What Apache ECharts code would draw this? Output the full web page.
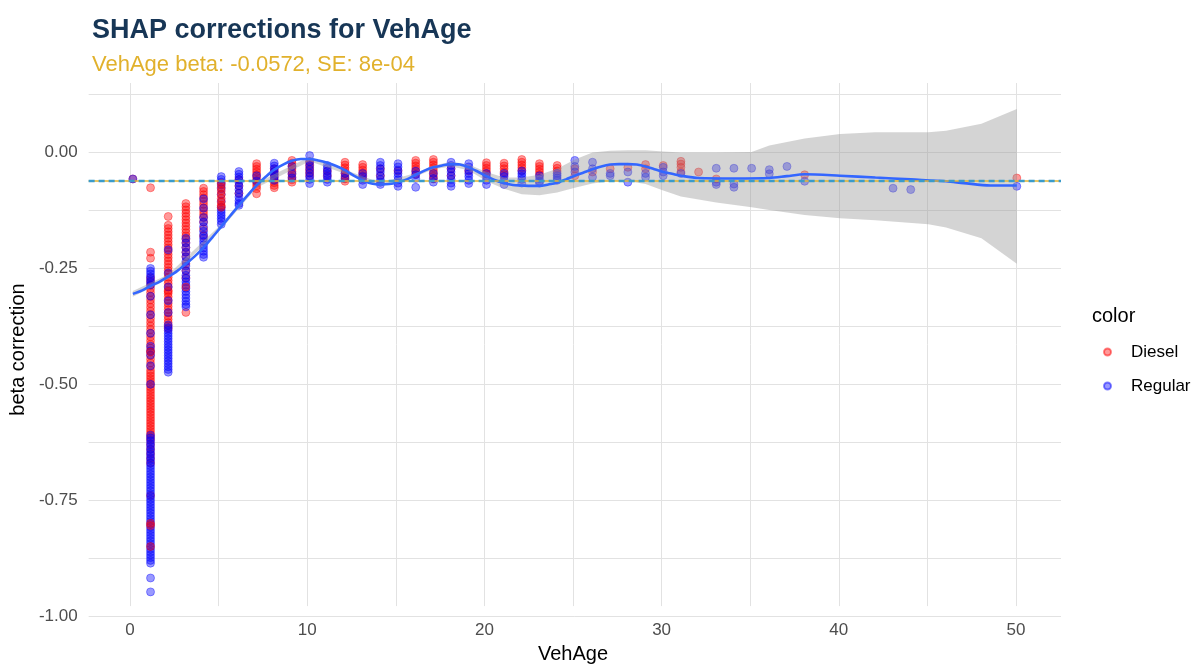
<!DOCTYPE html>
<html>
<head>
<meta charset="utf-8">
<script src="https://cdn.jsdelivr.net/npm/echarts@6/dist/echarts.min.js"></script>
<style>
  html, body { margin: 0; padding: 0; background: #ffffff; }
  #chart { width: 1203px; height: 669px; }
</style>
</head>
<body>
<div id="chart"></div>
<script>
// ---------- data ----------
const titleText = 'SHAP corrections for VehAge';
const subtitleText = 'VehAge beta: -0.0572, SE: 8e-04';
const betaValue = -0.0572;
const xTickLabels = [0, 10, 20, 30, 40, 50];
const yTickLabels = [0, -0.25, -0.5, -0.75, -1];

// Diesel points, per vehicle age: [age, [beta corrections]]
const dieselByAge = [
  [0, [-0.057]],
  [1, [-0.076, -0.215, -0.228,
       -0.27, -0.278, -0.286, -0.294, -0.302, -0.31, -0.318, -0.326, -0.334, -0.342, -0.35, -0.358, -0.366,
       -0.374, -0.382, -0.39, -0.398, -0.406, -0.414, -0.422, -0.43, -0.438, -0.446, -0.454, -0.462, -0.47,
       -0.476, -0.482, -0.488, -0.494, -0.50, -0.506, -0.512, -0.518, -0.524, -0.53, -0.536, -0.542, -0.548,
       -0.554, -0.56, -0.566, -0.572, -0.578, -0.584, -0.59, -0.596, -0.602, -0.608, -0.614, -0.62,
       -0.63, -0.64, -0.65, -0.66, -0.67, -0.74]],
  [2, [-0.138, -0.157, -0.164, -0.171, -0.178, -0.185, -0.192, -0.199, -0.206, -0.213, -0.22, -0.227, -0.234,
       -0.241, -0.248, -0.255, -0.262, -0.269, -0.276, -0.283, -0.29, -0.297, -0.304, -0.311, -0.318, -0.325,
       -0.332, -0.339, -0.346, -0.353, -0.36, -0.367, -0.374, -0.38]],
  [3, [-0.110, -0.117, -0.124, -0.131, -0.138, -0.145, -0.152, -0.159, -0.166, -0.173, -0.18, -0.187,
       -0.195, -0.205, -0.215, -0.225, -0.24, -0.255, -0.27, -0.345]],
  [4, [-0.077, -0.084, -0.091, -0.098, -0.105, -0.112, -0.119, -0.126, -0.133, -0.14, -0.15, -0.165, -0.18]],
  [6, [-0.058, -0.072, -0.088]],
  [7, [-0.024, -0.03, -0.036, -0.042, -0.048, -0.054, -0.06, -0.066, -0.072, -0.078, -0.089]],
  [8, [-0.035, -0.041, -0.047, -0.053, -0.059, -0.065, -0.071, -0.076]],
  [9, [-0.017, -0.023, -0.029, -0.035, -0.041, -0.047, -0.053, -0.059, -0.064]],
  [10, [-0.02, -0.026, -0.032, -0.038, -0.044, -0.05]],
  [11, [-0.04, -0.05]],
  [12, [-0.021, -0.027, -0.033, -0.039, -0.045, -0.051, -0.057, -0.062]],
  [13, [-0.026, -0.032, -0.038, -0.044, -0.05, -0.056]],
  [14, [-0.035, -0.05]],
  [15, [-0.04]],
  [16, [-0.017, -0.023, -0.029, -0.035, -0.041, -0.047]],
  [17, [-0.015, -0.021, -0.027, -0.033, -0.039, -0.045, -0.051, -0.057]],
  [18, [-0.035, -0.05]],
  [19, [-0.04]],
  [20, [-0.022, -0.028, -0.034, -0.04, -0.046]],
  [21, [-0.023, -0.029, -0.035, -0.042, -0.048]],
  [22, [-0.015, -0.021, -0.027, -0.033, -0.039]],
  [23, [-0.024, -0.03, -0.036, -0.042, -0.048]],
  [24, [-0.028, -0.034, -0.04]],
  [25, [-0.035, -0.05]],
  [26, [-0.042]],
  [27, [-0.035]],
  [28, [-0.032]],
  [29, [-0.026, -0.035]],
  [30, [-0.028]],
  [31, [-0.019, -0.025, -0.032, -0.042]],
  [32, [-0.042]],
  [33, [-0.057]],
  [38, [-0.048]],
  [50, [-0.055]]
];

// Diesel points that lie on top of Regular points
const dieselTopByAge = [
  [1, [-0.43, -0.80, -0.805, -0.85]],
  [2, [-0.30]],
  [3, [-0.29]],
  [5, [-0.067, -0.075, -0.083, -0.091, -0.099, -0.107, -0.114, -0.118]]
];

// Regular points, per vehicle age
const regularByAge = [
  [0, [-0.057]],
  [1, [-0.25, -0.256, -0.262, -0.268, -0.274, -0.28, -0.286, -0.31, -0.35, -0.39, -0.418, -0.428, -0.437, -0.46, -0.50,
       -0.610, -0.616, -0.622, -0.628, -0.634, -0.640, -0.646, -0.652, -0.658, -0.664, -0.670, -0.676, -0.682,
       -0.688, -0.694, -0.700, -0.706, -0.712, -0.718, -0.724, -0.730, -0.736, -0.742, -0.748, -0.754, -0.760,
       -0.766, -0.772, -0.778, -0.784, -0.790, -0.796, -0.802, -0.808, -0.814, -0.820, -0.826, -0.832, -0.838,
       -0.844, -0.850, -0.856, -0.862, -0.868, -0.874, -0.880, -0.886, -0.918, -0.948]],
  [2, [-0.21, -0.26, -0.29, -0.32, -0.345, -0.372, -0.378, -0.384, -0.39, -0.396, -0.402, -0.408, -0.414, -0.42,
       -0.426, -0.432, -0.438, -0.444, -0.45, -0.456, -0.462, -0.468, -0.474]],
  [3, [-0.185, -0.195, -0.205, -0.215, -0.225, -0.235, -0.245, -0.255, -0.265, -0.272, -0.279, -0.286, -0.293,
       -0.30, -0.307, -0.314, -0.321, -0.328, -0.333]],
  [4, [-0.10, -0.12, -0.14, -0.15, -0.16, -0.17, -0.178, -0.185, -0.192, -0.199, -0.206, -0.213, -0.22, -0.226]],
  [5, [-0.052, -0.058, -0.064, -0.07, -0.078, -0.09, -0.105, -0.118, -0.124, -0.13, -0.136, -0.142, -0.148, -0.155]],
  [6, [-0.041, -0.047, -0.053, -0.059, -0.065, -0.072, -0.08, -0.088, -0.096, -0.104, -0.11, -0.114]],
  [7, [-0.05, -0.062]],
  [8, [-0.023, -0.029, -0.035, -0.041, -0.047, -0.053, -0.06]],
  [9, [-0.03, -0.045, -0.055]],
  [10, [-0.0065, -0.02, -0.028, -0.036, -0.044, -0.052, -0.058, -0.067]],
  [11, [-0.028, -0.034, -0.04, -0.046, -0.052, -0.058, -0.064]],
  [12, [-0.045, -0.055]],
  [13, [-0.045, -0.052, -0.06, -0.069]],
  [14, [-0.021, -0.028, -0.035, -0.042, -0.05, -0.058, -0.064, -0.069]],
  [15, [-0.024, -0.031, -0.038, -0.045, -0.052, -0.059, -0.066, -0.073]],
  [16, [-0.04, -0.048, -0.056, -0.075]],
  [17, [-0.045, -0.056, -0.064]],
  [18, [-0.021, -0.028, -0.035, -0.042, -0.05, -0.058, -0.066, -0.073]],
  [19, [-0.024, -0.031, -0.038, -0.045, -0.052, -0.06, -0.067]],
  [20, [-0.045, -0.052, -0.06, -0.069]],
  [21, [-0.045, -0.052, -0.06, -0.069]],
  [22, [-0.04, -0.046, -0.052, -0.058, -0.066]],
  [23, [-0.05, -0.056, -0.062, -0.066]],
  [24, [-0.045, -0.05, -0.055, -0.06]],
  [25, [-0.017, -0.03, -0.042]],
  [26, [-0.021, -0.035, -0.053]],
  [27, [-0.045, -0.05]],
  [28, [-0.042, -0.064]],
  [29, [-0.045, -0.053]],
  [30, [-0.032, -0.042, -0.05]],
  [31, [-0.045]],
  [33, [-0.034, -0.064, -0.069]],
  [34, [-0.034, -0.068, -0.075]],
  [35, [-0.034]],
  [36, [-0.037, -0.046]],
  [37, [-0.03]],
  [38, [-0.062]],
  [43, [-0.077]],
  [44, [-0.08]],
  [50, [-0.073]]
];

// smoothed (loess) fit: [age, fit]
const smoothFit = [
  [0, -0.305], [0.5, -0.298], [1, -0.288], [1.5, -0.279], [2, -0.268], [2.5, -0.256],
  [3, -0.240], [3.5, -0.224], [4, -0.205], [4.5, -0.183], [5, -0.160], [5.5, -0.137],
  [6, -0.114], [6.5, -0.092], [7, -0.071], [7.5, -0.053], [8, -0.037], [8.5, -0.026],
  [9, -0.018], [9.5, -0.014], [10, -0.014], [10.5, -0.017], [11, -0.022], [11.5, -0.029],
  [12, -0.038], [12.5, -0.050], [13, -0.060], [13.5, -0.067], [14, -0.069], [14.5, -0.068],
  [15, -0.064], [15.5, -0.058], [16, -0.048], [16.5, -0.039], [17, -0.032], [17.5, -0.028],
  [18, -0.025], [18.5, -0.026], [19, -0.032], [19.5, -0.041], [20, -0.051], [20.5, -0.060],
  [21, -0.066], [21.5, -0.070], [22, -0.071], [22.5, -0.072], [23, -0.072], [23.5, -0.069],
  [24, -0.065], [24.5, -0.058], [25, -0.050], [25.5, -0.043], [26, -0.036], [26.5, -0.030],
  [27, -0.026], [27.5, -0.025], [28, -0.025], [28.5, -0.026], [29, -0.030], [29.5, -0.036],
  [30, -0.042], [30.5, -0.046], [31, -0.050], [32, -0.055], [34, -0.056], [36, -0.055],
  [37, -0.051], [38, -0.047], [40, -0.050], [42, -0.054], [44, -0.058], [46, -0.062],
  [47, -0.066], [48.5, -0.071], [50, -0.071]
];

// confidence band of the fit: [age, lower, upper]
const smoothBand = [
  [0, -0.311, -0.299], [2, -0.273, -0.263], [5, -0.165, -0.155], [7, -0.076, -0.066],
  [10, -0.019, -0.009], [14, -0.073, -0.065], [16, -0.052, -0.044], [17, -0.036, -0.028],
  [18, -0.030, -0.020], [19, -0.038, -0.026],
  [20, -0.062, -0.042], [21, -0.078, -0.054], [22, -0.090, -0.054], [23, -0.092, -0.048],
  [24, -0.086, -0.035], [25, -0.076, -0.015], [26, -0.067, 0.000], [27, -0.062, 0.004],
  [28, -0.062, 0.005], [29, -0.068, 0.005], [30, -0.082, 0.002], [31, -0.095, 0.000],
  [33, -0.108, 0.000], [35, -0.118, 0.001], [36, -0.124, 0.015], [38, -0.135, 0.030],
  [40, -0.142, 0.040], [42, -0.146, 0.044], [45, -0.155, 0.044], [46, -0.162, 0.047],
  [48, -0.185, 0.062], [50, -0.240, 0.094]
];

// ---------- build ----------
function flatten(byAge) {
  const out = [];
  byAge.forEach(function (row) {
    row[1].forEach(function (v) { out.push([row[0], v]); });
  });
  return out;
}

const FONT = 'Liberation Sans, Arial, Helvetica, sans-serif';
const GRID_COLOR = '#e2e2e2';
const TICK_COLOR = '#4d4d4d';
const RED = 'rgba(255,0,0,0.5)';
const BLUE = 'rgba(0,0,255,0.5)';
const PT = 8;

const chart = echarts.init(document.getElementById('chart'), null, { renderer: 'canvas' });

const option = {
  animation: false,
  backgroundColor: '#ffffff',
  textStyle: { fontFamily: FONT },
  title: [
    { text: titleText, left: 87, top: 12,
      textStyle: { fontFamily: FONT, fontSize: 27, fontWeight: 'bold', color: '#173656' } },
    { text: subtitleText, left: 87, top: 49,
      textStyle: { fontFamily: FONT, fontSize: 22, fontWeight: 'normal', color: '#E1B12C' } },
    { text: 'color', left: 1087, top: 301,
      textStyle: { fontFamily: FONT, fontSize: 20, fontWeight: 'normal', color: '#000000' } }
  ],
  legend: {
    data: ['Diesel', 'Regular'],
    orient: 'vertical',
    left: 1098,
    top: 337,
    icon: 'circle',
    itemWidth: 7,
    itemHeight: 7,
    itemGap: 14,
    selectedMode: false,
    textStyle: { fontFamily: FONT, fontSize: 17, color: '#000000', lineHeight: 20, padding: [0, 0, 0, 15] }
  },
  grid: [
    { left: 86, right: 142, top: 83, bottom: 53 },
    { left: 130, right: 187, top: 83, bottom: 53 }
  ],
  xAxis: [
    { gridIndex: 0, type: 'value', min: -2.5, max: 52.5, show: false },
    { gridIndex: 1, type: 'value', min: 0, max: 50, interval: 5,
      axisLine: { show: false }, axisTick: { show: false },
      splitLine: { show: true, lineStyle: { color: GRID_COLOR, width: 1 } },
      axisLabel: {
        color: TICK_COLOR, fontSize: 17, fontFamily: FONT, margin: 16,
        formatter: function (v) { return xTickLabels.indexOf(v) >= 0 ? String(v) : ''; }
      },
      name: 'VehAge', nameLocation: 'middle', nameGap: 36,
      nameTextStyle: { color: '#000000', fontSize: 20, fontFamily: FONT }
    }
  ],
  yAxis: [
    { gridIndex: 0, type: 'value', min: -1, max: 0.15, interval: 0.125,
      axisLine: { show: false }, axisTick: { show: false },
      splitLine: { show: true, showMaxLine: false, lineStyle: { color: GRID_COLOR, width: 1 } },
      axisLabel: {
        color: TICK_COLOR, fontSize: 17, fontFamily: FONT, margin: 11, showMaxLabel: false,
        formatter: function (v) {
          for (let i = 0; i < yTickLabels.length; i++) {
            if (Math.abs(yTickLabels[i] - v) < 1e-9) return yTickLabels[i].toFixed(2);
          }
          return '';
        }
      },
      name: 'beta correction', nameLocation: 'middle', nameGap: 55,
      nameTextStyle: { color: '#000000', fontSize: 20, fontFamily: FONT }
    },
    { gridIndex: 1, type: 'value', min: -1, max: 0.15, show: false }
  ],
  series: [
    { name: 'Diesel', type: 'scatter', xAxisIndex: 0, yAxisIndex: 0, z: 2,
      symbolSize: PT, data: flatten(dieselByAge),
      itemStyle: { color: RED, borderColor: 'rgba(255,0,0,0.6)', borderWidth: 0.8 } },
    { name: 'Regular', type: 'scatter', xAxisIndex: 0, yAxisIndex: 0, z: 2,
      symbolSize: PT, data: flatten(regularByAge),
      itemStyle: { color: BLUE, borderColor: 'rgba(0,0,255,0.6)', borderWidth: 0.8 } },
    { name: 'Diesel', type: 'scatter', xAxisIndex: 0, yAxisIndex: 0, z: 2,
      symbolSize: PT, data: flatten(dieselTopByAge),
      itemStyle: { color: RED, borderColor: 'rgba(255,0,0,0.6)', borderWidth: 0.8 } },
    { name: 'band', type: 'custom', xAxisIndex: 0, yAxisIndex: 0, z: 3, silent: true,
      data: smoothBand,
      encode: { x: 0, y: [1, 2] },
      renderItem: function (params, api) {
        if (params.dataIndex !== 0) return null;
        const upper = [], lower = [];
        smoothBand.forEach(function (r) {
          upper.push(api.coord([r[0], r[2]]));
          lower.push(api.coord([r[0], r[1]]));
        });
        return {
          type: 'polygon',
          shape: { points: upper.concat(lower.reverse()), smooth: 0 },
          style: { fill: 'rgba(153,153,153,0.42)', stroke: null }
        };
      }
    },
    { name: 'fit', type: 'line', xAxisIndex: 0, yAxisIndex: 0, z: 4,
      data: smoothFit, showSymbol: false, smooth: 0.3, silent: true,
      lineStyle: { color: '#3366FF', width: 2.6 },
      markLine: {
        silent: true, symbol: ['none', 'none'], label: { show: false },
        data: [
          { yAxis: betaValue, lineStyle: { color: '#E3B42E', width: 1.6, type: 'solid' } },
          { yAxis: betaValue, lineStyle: { color: '#3A9BCB', width: 2.3, type: [6, 4] } }
        ]
      }
    }
  ]
};

chart.setOption(option);
</script>
</body>
</html>
